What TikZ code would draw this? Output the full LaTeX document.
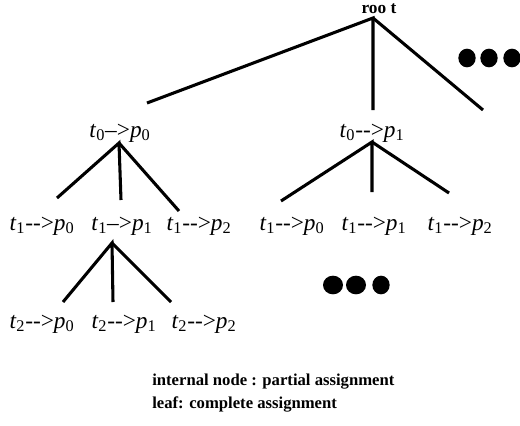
\documentclass[tikz,border=0pt]{standalone}
\usepackage{fontspec}
\setmainfont{Liberation Serif}
\usepackage{tikz}
\usetikzlibrary{shapes.geometric}

\newcommand{\asg}[3]{\textit{t}\textsubscript{#1}#3\textit{p}\textsubscript{#2}}

\begin{document}
\begin{tikzpicture}[x=0.75pt, y=-0.75pt,
  br/.style={line width=2.3pt},
  lbl/.style={inner sep=0pt, font=\fontsize{17.5}{20}\selectfont},
  blob/.style={ellipse, fill=black, inner sep=0pt, minimum width=13pt, minimum height=14pt}]
\useasboundingbox (0,0) rectangle (520,425);
% racine
\node[inner sep=0pt, font=\bfseries\fontsize{13}{14}\selectfont] (root) at (379,9) {roo t};
\coordinate (r) at (373,18);
\coordinate (ra) at (147,103);
\coordinate (rb) at (373,110);
\coordinate (rc) at (483,110);
\draw[br] (ra) -- (r) -- (rb);
\draw[br] (r) -- (rc);
\node[blob] (d1) at (467,58) {}; \node[blob] (d2) at (489,58) {}; \node[blob] (d3) at (512,58) {};
% niveau 1
\node[lbl] (n0) at (120,133) {\asg{0}{0}{\textendash>}};
\node[lbl] (n1) at (372,133) {\asg{0}{1}{-{}->}};
\coordinate (a0) at (119,143);
\draw[br] (57,198) -- (a0) -- (121,200);
\draw[br] (a0) -- (179,211);
\coordinate (a1) at (372,142);
\draw[br] (281,201) -- (a1) -- (372,192);
\draw[br] (a1) -- (449,193);
% niveau 2
\node[lbl] (m00) at (42,226) {\asg{1}{0}{-{}->}};
\node[lbl] (m01) at (122,226) {\asg{1}{1}{\textendash>}};
\node[lbl] (m02) at (199,226) {\asg{1}{2}{-{}->}};
\node[lbl] (m10) at (292,226) {\asg{1}{0}{-{}->}};
\node[lbl] (m11) at (374,226) {\asg{1}{1}{-{}->}};
\node[lbl] (m12) at (460,226) {\asg{1}{2}{-{}->}};
\coordinate (b1) at (112,243);
\draw[br] (63,302) -- (b1) -- (113,302);
\draw[br] (b1) -- (171,302);
\node[blob, minimum width=15pt, minimum height=14pt] (e1) at (333,285) {};
\node[blob, minimum width=15pt, minimum height=14pt] (e2) at (356,285) {};
\node[blob, minimum width=13pt, minimum height=14pt] (e3) at (381,285) {};
% feuilles
\node[lbl] (f0) at (42,324) {\asg{2}{0}{-{}->}};
\node[lbl] (f1) at (124,324) {\asg{2}{1}{-{}->}};
\node[lbl] (f2) at (204,324) {\asg{2}{2}{-{}->}};
% legende
\node[anchor=north west, inner sep=0pt, align=left, font=\bfseries\fontsize{12.5}{17}\selectfont] (leg) at (152,374)
  {internal node : partial assignment\\ leaf: complete assignment};
\end{tikzpicture}
\end{document}
